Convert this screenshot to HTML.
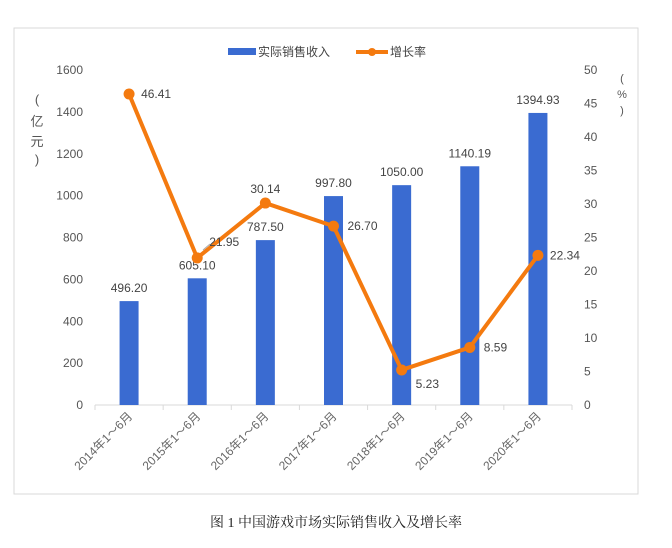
<!DOCTYPE html>
<html><head><meta charset="utf-8"><style>
body{margin:0;background:#fff;width:672px;height:543px;overflow:hidden;font-family:"Liberation Sans","Noto Sans CJK SC",sans-serif}
svg text{font-family:"Liberation Sans","Noto Sans CJK SC",sans-serif}
</style></head><body>
<svg width="672" height="543">
<rect x="14" y="28" width="624" height="466" fill="#fff" stroke="#d9d9d9"/>
<g id="legend">
<rect x="228" y="48" width="28" height="7" fill="#3a6bd1"/>
<text x="258" y="56" font-size="12" fill="#444">实际销售收入</text>
<line x1="356" y1="52" x2="388" y2="52" stroke="#f47a0f" stroke-width="4"/>
<circle cx="372" cy="52" r="4" fill="#f47a0f"/>
<text x="390" y="56" font-size="12" fill="#444">增长率</text>
</g>
<text font-size="13" fill="#555" text-anchor="middle"><tspan x="37" y="104">(</tspan><tspan x="37" y="126">亿</tspan><tspan x="37" y="146">元</tspan><tspan x="37" y="164">)</tspan></text>
<text font-size="11" fill="#555" text-anchor="middle"><tspan x="622" y="82">(</tspan><tspan x="622" y="98">%</tspan><tspan x="622" y="114">)</tspan></text>
<g id="axes"></g><g id="bars"></g><g id="line"></g>
<line x1="203" y1="250" x2="210" y2="244" stroke="#aaa"/>
<text x="336" y="527" font-size="14" fill="#222" text-anchor="middle" style="font-family:'Liberation Serif','Noto Serif CJK SC',serif">图 1 中国游戏市场实际销售收入及增长率</text>
</svg>
<script>
const categories=["2014年1～6月","2015年1～6月","2016年1～6月","2017年1～6月","2018年1～6月","2019年1～6月","2020年1～6月"];
const revenue=[496.20,605.10,787.50,997.80,1050.00,1140.19,1394.93];
const growth=[46.41,21.95,30.14,26.70,5.23,8.59,22.34];
const leftTicks=[0,200,400,600,800,1000,1200,1400,1600];
const rightTicks=[0,5,10,15,20,25,30,35,40,45,50];
const NS="http://www.w3.org/2000/svg";
const x0=95,x1=572,yB=405,yT=70;
const band=(x1-x0)/categories.length;
const xc=i=>x0+band*(i+0.5);
const yL=v=>yB-(v/1600)*(yB-yT);
const yR=v=>yB-(v/50)*(yB-yT);
function mk(tag,attrs,parent,txt){const e=document.createElementNS(NS,tag);for(const k in attrs)e.setAttribute(k,attrs[k]);if(txt!==undefined)e.textContent=txt;parent.appendChild(e);return e;}
const ax=document.getElementById('axes');
leftTicks.forEach(t=>{const e=mk('text',{x:83,y:yL(t)+4,'font-size':12,fill:'#555','text-anchor':'end'},ax,String(t));

});
rightTicks.forEach(t=>{const e=mk('text',{x:584,y:yR(t)+4,'font-size':12,fill:'#555'},ax,String(t));

});
const base=mk('line',{x1:x0,y1:yB,x2:x1,y2:yB,stroke:'#d9d9d9'},ax);


for(let i=0;i<=categories.length;i++){mk('line',{x1:x0+band*i,y1:yB,x2:x0+band*i,y2:yB+5,stroke:'#d9d9d9'},ax);}
categories.forEach((c,i)=>{const x=xc(i)+4,y=yB+12;const e=mk('text',{x:x,y:y,'font-size':12,fill:'#666','text-anchor':'end',transform:`rotate(-45 ${x} ${y})`},ax,c);

});
const bg=document.getElementById('bars');
revenue.forEach((v,i)=>{const r=mk('rect',{x:xc(i)-9.5,y:yL(v),width:19,height:yB-yL(v),fill:'#3a6bd1'},bg);


const t=mk('text',{x:xc(i),y:yL(v)-9,'font-size':12,fill:'#444','text-anchor':'middle'},bg,v.toFixed(2));

});
const lg=document.getElementById('line');
const pl=mk('polyline',{points:growth.map((g,i)=>xc(i)+','+yR(g)).join(' '),fill:'none',stroke:'#f47a0f','stroke-width':4,'stroke-linejoin':'round'},lg);


const off=[[12,0,'start'],[12,-16,'start'],[0,-14,'middle'],[14,0,'start'],[14,14,'start'],[14,0,'start'],[12,0,'start']];
growth.forEach((g,i)=>{const c=mk('circle',{cx:xc(i),cy:yR(g),r:5.5,fill:'#f47a0f'},lg);


const o=off[i];const t=mk('text',{x:xc(i)+o[0],y:yR(g)+o[1]+4,'font-size':12,fill:'#444','text-anchor':o[2]},lg,g.toFixed(2));

});
</script>
</body></html>
